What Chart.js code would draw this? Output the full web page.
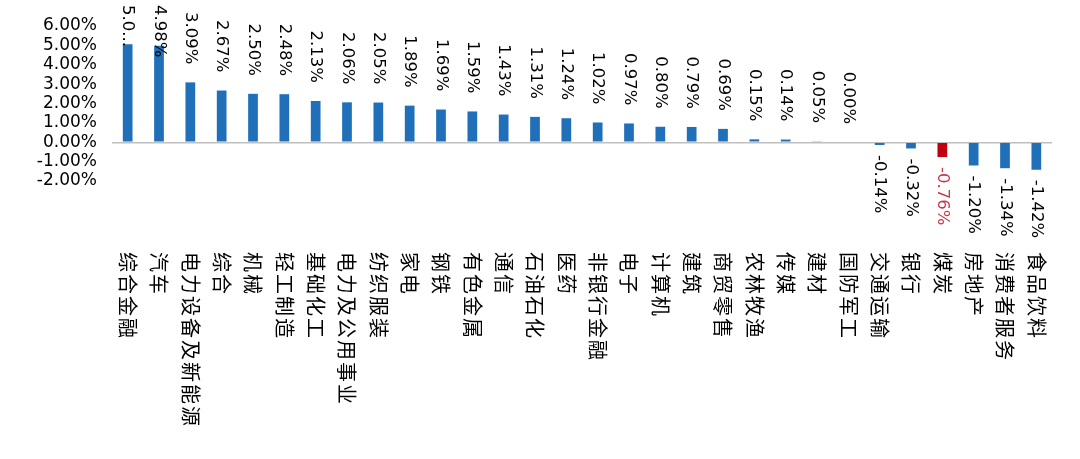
<!DOCTYPE html>
<html>
<head>
<meta charset="utf-8">
<script src="https://cdn.jsdelivr.net/npm/chart.js@4/dist/chart.umd.min.js"></script>
<style>
  html, body { margin: 0; padding: 0; background: #fff; }
  #box { width: 1080px; height: 459px; }
</style>
</head>
<body>
<div id="box"><canvas id="myChart"></canvas></div>
<script>
const categories = ["综合金融", "汽车", "电力设备及新能源", "综合", "机械", "轻工制造", "基础化工",
  "电力及公用事业", "纺织服装", "家电", "钢铁", "有色金属", "通信", "石油石化", "医药", "非银行金融",
  "电子", "计算机", "建筑", "商贸零售", "农林牧渔", "传媒", "建材", "国防军工", "交通运输", "银行",
  "煤炭", "房地产", "消费者服务", "食品饮料"];
const values = [5.06, 4.98, 3.09, 2.67, 2.50, 2.48, 2.13, 2.06, 2.05, 1.89, 1.69, 1.59, 1.43, 1.31, 1.24,
  1.02, 0.97, 0.80, 0.79, 0.69, 0.15, 0.14, 0.05, 0.00, -0.14, -0.32, -0.76, -1.20, -1.34, -1.42];
const yTicks = [-2, -1, 0, 1, 2, 3, 4, 5, 6];
const highlight = "煤炭";

const blue = '#1F70B8';
const red = '#C00010';

const labelText = values.map(v => v.toFixed(2) + '%');
labelText[0] = '5.0...';

// rotated value labels and category names (text turned clockwise)
const rotatedText = {
  id: 'rotatedText',
  afterDatasetsDraw(chart) {
    const ctx = chart.ctx;
    const x = chart.scales.x;
    const y = chart.scales.y;
    const zero = y.getPixelForValue(0);
    ctx.save();
    ctx.textBaseline = 'middle';
    values.forEach(function (v, i) {
      const px = x.getPixelForValue(i);
      const py = y.getPixelForValue(v);
      ctx.font = '16.5px "DejaVu Sans"';
      ctx.fillStyle = categories[i] === highlight ? '#C8384A' : '#000';
      const w = ctx.measureText(labelText[i]).width;
      let start;
      if (v >= 0) {
        start = Math.max(5, Math.min(py, zero) - 18 - w);
      } else {
        start = py + 10;
      }
      ctx.save();
      ctx.translate(px, start);
      ctx.rotate(Math.PI / 2);
      ctx.textAlign = 'left';
      ctx.fillText(labelText[i], 0, 0);
      ctx.restore();

      ctx.font = '20px "Noto Sans CJK SC"';
      ctx.fillStyle = '#000';
      ctx.letterSpacing = '2px';
      ctx.save();
      ctx.translate(px, 252);
      ctx.rotate(Math.PI / 2);
      ctx.fillText(categories[i], 0, 0);
      ctx.restore();
      ctx.letterSpacing = '0px';
    });
    ctx.restore();
  }
};

const ctx = document.getElementById('myChart').getContext('2d');

const chart = new Chart(ctx, {
  type: 'bar',
  data: {
    labels: categories,
    datasets: [{
      data: values,
      backgroundColor: categories.map(c => c === highlight ? red : blue),
      barPercentage: 0.31,
      categoryPercentage: 1,
    }]
  },
  options: {
    responsive: true,
    maintainAspectRatio: false,
    animation: false,
    layout: {
      padding: { top: 26, bottom: 278, left: 0, right: 28 }
    },
    plugins: {
      legend: { display: false },
      tooltip: { enabled: false },
    },
    scales: {
      x: {
        display: false,
      },
      y: {
        min: yTicks[0],
        max: yTicks[yTicks.length - 1],
        afterBuildTicks(scale) {
          scale.ticks = yTicks.map(v => ({ value: v }));
        },
        afterFit(scale) {
          scale.width = 112;
        },
        border: { display: false },
        grid: {
          drawTicks: false,
          lineWidth: 1.5,
          color: c => c.tick.value === 0 ? '#BFBFBF' : 'rgba(0,0,0,0)',
        },
        ticks: {
          autoSkip: false,
          padding: 15,
          color: '#000',
          font: { family: '"DejaVu Sans"', size: 17 },
          callback: v => v.toFixed(2) + '%',
        },
      },
    },
  },
  plugins: [rotatedText],
});
</script>
</body>
</html>
